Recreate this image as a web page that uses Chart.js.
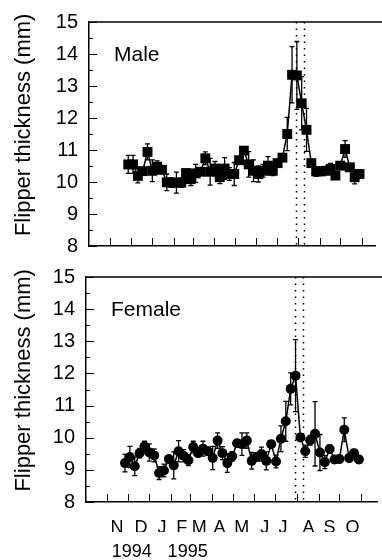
<!DOCTYPE html>
<html><head><meta charset="utf-8">
<script src="https://cdn.jsdelivr.net/npm/chart.js@4.4.0/dist/chart.umd.min.js"></script>
<style>
html,body{margin:0;padding:0;background:#fff;overflow:hidden}
#wrap{position:relative;width:382px;height:560px}
canvas{position:absolute;left:0}
</style></head>
<body><div id="wrap">
<canvas id="c1" width="382" height="260" style="top:0"></canvas>
<canvas id="c2" width="382" height="300" style="top:260px"></canvas>
</div>
<script>
// Sampling dates, days after 1 Nov 1994 (weekly samples)
const sampleDays = [26,33,40,47,54,61,68,75,82,89,96,103,110,117,124,131,138,145,152,159,166,173,180,187,194,201,208,215,222,229,236,243,250,257,264,271,278,285,292,299,306,313,320,327,334,341,348,355,362];
const maleMean = [10.55,10.55,10.19,10.34,10.94,10.35,10.48,10.38,9.99,9.98,
  9.98,9.98,10.28,10.09,10.27,10.32,10.74,10.32,10.42,10.15,
  10.42,10.25,10.25,10.68,10.98,10.55,10.35,10.25,10.35,10.51,
  10.35,10.59,10.76,11.5,13.35,13.33,12.46,11.63,10.59,10.33,
  10.33,10.35,10.41,10.2,10.51,11.03,10.46,10.15,10.25];
const maleErr = [0.28,0.28,0.22,0.1,0.25,0.34,0.18,0.1,0.26,0.15,
  0.33,0.15,0.1,0.2,0.28,0.1,0.2,0.42,0.22,0.2,
  0.34,0.2,0.36,0.12,0.1,0.4,0.34,0.25,0.2,0.28,
  0.15,0.1,0.1,0.52,0.88,1.06,0.83,0.67,0.1,0.15,
  0.12,0.12,0.17,0.1,0.1,0.26,0.1,0.21,0.1];
const femaleMean = [9.21,9.40,9.11,9.52,9.73,9.54,9.45,8.90,8.98,9.34,
  9.14,9.58,9.44,9.30,9.71,9.52,9.66,9.58,9.37,9.91,
  9.52,9.21,9.42,9.83,9.80,9.91,9.28,9.40,9.49,9.28,
  9.80,9.26,9.97,10.51,11.52,11.93,10.01,9.58,9.92,10.12,
  9.54,9.24,9.65,9.32,9.34,10.25,9.37,9.52,9.32];
const femaleErr = [0.27,0.33,0.29,0.15,0.16,0.27,0.2,0.2,0.2,0.1,
  0.42,0.33,0.19,0.17,0.18,0.1,0.23,0.12,0.36,0.24,
  0.2,0.29,0.15,0.1,0.35,0.24,0.26,0.12,0.22,0.28,
  0.1,0.2,0.4,0.62,0.5,1.12,0.12,0.19,0.15,1.0,
  0.56,0.2,0.12,0.12,0.12,0.37,0.12,0.12,0.12];
const monthStartDays = [0,30,61,92,120,151,181,212,242,273,304,334,365];
const monthLabels = ['N','D','J','F','M','A','M','J','J','A','S','O'];
const monthLabelDays = [14.6,49,79,107.5,132.6,161.7,193.8,226.8,252.8,289.6,319.7,352.7];
const yearLabels = ['1994','1995'];
const yearLabelDays = [35.8,116];
const dottedDays = [270,281];
const yTicksMajor = [8,9,10,11,12,13,14,15];
const yTicksMinor = [8.5,9.5,10.5,11.5,12.5,13.5,14.5];
const yTitle = '   Flipper thickness (mm)';

const FONT = '"Liberation Sans", Arial, sans-serif';
const BLACK = '#000';

function decorPlugin(errs, label) {
  return {
    id: 'decor',
    beforeDatasetsDraw(chart) {
      const {ctx, chartArea: a, scales: {x, y}} = chart;
      ctx.save();
      ctx.strokeStyle = BLACK;
      ctx.lineWidth = 1.5;
      ctx.setLineDash([1.5, 5]);
      dottedDays.forEach(d => {
        const px = Math.round(x.getPixelForValue(d)) + 0.5;
        ctx.beginPath(); ctx.moveTo(px, a.top); ctx.lineTo(px, a.bottom); ctx.stroke();
      });
      ctx.setLineDash([]);
      ctx.lineWidth = 1.3;
      chart.data.datasets[0].data.forEach((p, i) => {
        const px = x.getPixelForValue(p.x);
        const y1 = y.getPixelForValue(p.y + errs[i]);
        const y2 = y.getPixelForValue(p.y - errs[i]);
        ctx.beginPath();
        ctx.moveTo(px, y1); ctx.lineTo(px, y2);
        ctx.moveTo(px - 2.5, y1); ctx.lineTo(px + 2.5, y1);
        ctx.moveTo(px - 2.5, y2); ctx.lineTo(px + 2.5, y2);
        ctx.stroke();
      });
      ctx.restore();
    },
    afterDraw(chart) {
      const {ctx, chartArea: a, scales: {x, y}} = chart;
      ctx.save();
      ctx.strokeStyle = BLACK;
      ctx.lineWidth = 1.5;
      ctx.beginPath(); ctx.moveTo(a.left, a.top); ctx.lineTo(chart.width, a.top); ctx.stroke();
      ctx.lineWidth = 1;
      yTicksMajor.forEach(v => {
        const py = Math.round(y.getPixelForValue(v)) + 0.5;
        ctx.beginPath(); ctx.moveTo(a.left, py); ctx.lineTo(a.left + 8, py); ctx.stroke();
      });
      yTicksMinor.forEach(v => {
        const py = Math.round(y.getPixelForValue(v)) + 0.5;
        ctx.beginPath(); ctx.moveTo(a.left, py); ctx.lineTo(a.left + 4, py); ctx.stroke();
      });
      monthStartDays.forEach(d => {
        const px = Math.round(x.getPixelForValue(d)) + 0.5;
        ctx.beginPath(); ctx.moveTo(px, a.bottom); ctx.lineTo(px, a.bottom - 8); ctx.stroke();
      });
      ctx.fillStyle = BLACK;
      ctx.font = '21px ' + FONT;
      ctx.textBaseline = 'alphabetic';
      ctx.textAlign = 'left';
      ctx.fillText(label, a.left + 25, a.top + 39);
      ctx.restore();
    }
  };
}

function yScale(width) {
  return {
    type: 'linear', min: 8, max: 15,
    ticks: {stepSize: 1, color: BLACK, font: {family: FONT, size: 20}, padding: 0},
    grid: {display: false, drawTicks: true, tickLength: 11},
    border: {display: true, color: BLACK, width: 1.5},
    title: {display: true, text: yTitle, color: BLACK,
      font: {family: FONT, size: 22}, padding: {top: 11, bottom: 0}},
    afterFit(s) { s.width = width; }
  };
}

function dataset(vals, style, radius) {
  return {
    data: sampleDays.map((d, i) => ({x: d, y: vals[i]})),
    borderColor: BLACK, backgroundColor: BLACK, borderWidth: 1.5,
    pointStyle: style, pointRadius: radius, pointHoverRadius: radius,
    pointBorderWidth: 0, tension: 0
  };
}

const common = {
  responsive: false, animation: false, devicePixelRatio: 1,
  plugins: {legend: {display: false}, tooltip: {enabled: false}},
  events: []
};

new Chart(document.getElementById('c1'), {
  type: 'line',
  data: {datasets: [dataset(maleMean, 'rect', 7)]},
  options: Object.assign({}, common, {
    layout: {padding: {top: 22, right: 0, left: 0, bottom: 0}},
    scales: {
      x: {type: 'linear', min: -31, max: 384.5,
        ticks: {display: false},
        grid: {display: false, drawTicks: false},
        border: {display: true, color: BLACK, width: 1.5},
        afterFit(s) { s.height = 14; }},
      y: yScale(89)
    }
  }),
  plugins: [decorPlugin(maleErr, 'Male')]
});

new Chart(document.getElementById('c2'), {
  type: 'line',
  data: {datasets: [dataset(femaleMean, 'circle', 5)]},
  options: Object.assign({}, common, {
    layout: {padding: {top: 17, right: 0, left: 0, bottom: 0}},
    scales: {
      x: {type: 'linear', position: 'bottom', min: -30, max: 388,
        afterBuildTicks(s) { s.ticks = monthLabelDays.map(v => ({value: v})); },
        ticks: {autoSkip: false, maxRotation: 0, minRotation: 0, color: BLACK,
          font: {family: FONT, size: 18}, padding: 15,
          callback: (v, i) => monthLabels[i]},
        grid: {display: false, drawTicks: false},
        border: {display: true, color: BLACK, width: 1.5},
        afterFit(s) { s.height = 30; }},
      x2: {type: 'linear', position: 'bottom', min: -30, max: 388,
        afterBuildTicks(s) { s.ticks = yearLabelDays.map(v => ({value: v})); },
        ticks: {autoSkip: false, maxRotation: 0, minRotation: 0, color: BLACK,
          font: {family: FONT, size: 18}, padding: 9,
          callback: (v, i) => yearLabels[i]},
        grid: {display: false, drawTicks: false},
        border: {display: false},
        afterFit(s) { s.height = 28; }},
      y: yScale(86)
    }
  }),
  plugins: [decorPlugin(femaleErr, 'Female')]
});
</script>
</body></html>
